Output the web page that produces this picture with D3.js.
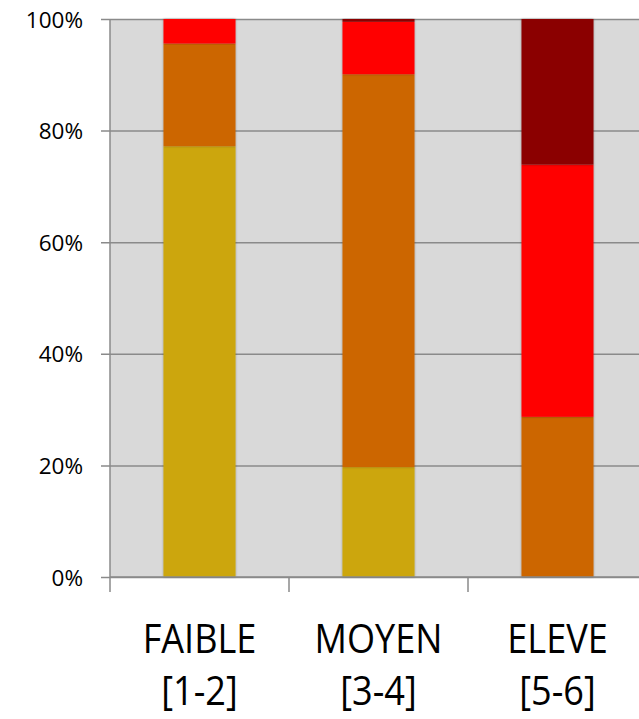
<!DOCTYPE html>
<html>
<head>
<meta charset="utf-8">
<script src="https://cdn.jsdelivr.net/npm/d3@7"></script>
<style>
  html, body { margin: 0; padding: 0; background: #ffffff; overflow: hidden; }
  svg { display: block; }
</style>
</head>
<body>
<svg id="chart" width="639" height="719"></svg>
<script>
// Categories (two-line labels)
const categories = ["FAIBLE [1-2]", "MOYEN [3-4]", "ELEVE [5-6]"];
const categoryLines = [["FAIBLE", "[1-2]"], ["MOYEN", "[3-4]"], ["ELEVE", "[5-6]"]];

// Stacked shares (percent), bottom to top
const serieJaune  = [77.2, 19.7, 0.0];
const serieOrange = [18.4, 70.4, 28.7];
const serieRouge  = [4.4, 9.4, 45.2];
const serieBordeaux = [0.0, 0.5, 26.1];

const seriesNames = ["jaune", "orange", "rouge", "bordeaux"];
const seriesColors = ["#cca60b", "#cc6600", "#ff0000", "#8b0006"];

const yTicks = [0, 20, 40, 60, 80, 100];

const rows = categories.map((c, i) => ({
  cat: c,
  jaune: serieJaune[i],
  orange: serieOrange[i],
  rouge: serieRouge[i],
  bordeaux: serieBordeaux[i]
}));

const svg = d3.select("#chart");
const margin = { left: 110, top: 19, bottom: 142 };
const plotW = 537;               // plot extends slightly past the right edge
const plotH = 719 - margin.top - margin.bottom;

const x = d3.scaleBand().domain(categories).range([0, plotW]).paddingInner(0.6).paddingOuter(0.3);
const xEdges = d3.scalePoint().domain(d3.range(categories.length + 1)).range([0, plotW]);
const y = d3.scaleLinear().domain([0, 100]).range([plotH, 0]);

const defs = svg.append("defs");
const shadow = defs.append("filter").attr("id", "shadow")
  .attr("x", "-10%").attr("y", "-5%").attr("width", "120%").attr("height", "110%");
shadow.append("feDropShadow").attr("dx", 0).attr("dy", 0)
  .attr("stdDeviation", 1.2).attr("flood-color", "#000").attr("flood-opacity", 0.35);

const g = svg.append("g").attr("transform", `translate(${margin.left},${margin.top})`);

// plot background
g.append("rect").attr("x", 0).attr("y", 0).attr("width", plotW).attr("height", plotH)
  .attr("fill", "#d9d9d9");

// horizontal gridlines + y axis
const yAxis = d3.axisLeft(y).tickValues(yTicks).tickFormat(d => d + "%")
  .tickSize(-plotW).tickPadding(27);
const yG = g.append("g").call(yAxis);
yG.select(".domain").remove();
yG.selectAll(".tick line").attr("stroke", "#8a8a8a").attr("stroke-width", 1.5).attr("x1", -9);
yG.selectAll(".tick text")
  .attr("font-family", "'Open Sans', sans-serif")
  .attr("font-size", 22.5)
  .attr("fill", "#000")
  .attr("dy", "0.36em");

// stacked bars
const stack = d3.stack().keys(seriesNames);
const stacked = stack(rows);
const color = d3.scaleOrdinal().domain(seriesNames).range(seriesColors);

const bw = 72;
g.append("g").selectAll("g.serie")
  .data(stacked)
  .join("g")
  .attr("class", "serie")
  .attr("fill", d => color(d.key))
  .selectAll("rect")
  .data(d => d.filter(p => p[1] - p[0] > 0))
  .join("rect")
  .attr("x", d => x(d.data.cat) + x.bandwidth() / 2 - bw / 2)
  .attr("width", bw)
  .attr("y", d => y(d[1]))
  .attr("height", d => y(d[0]) - y(d[1]))
  .attr("filter", "url(#shadow)");

// y axis line
g.append("line").attr("x1", 0).attr("x2", 0).attr("y1", 0).attr("y2", plotH)
  .attr("stroke", "#8a8a8a").attr("stroke-width", 1.5);

// x axis line + category separator ticks
g.append("line").attr("x1", 0).attr("x2", plotW).attr("y1", plotH).attr("y2", plotH)
  .attr("stroke", "#8a8a8a").attr("stroke-width", 1.5);
g.append("g").selectAll("line")
  .data(d3.range(categories.length + 1))
  .join("line")
  .attr("x1", d => xEdges(d)).attr("x2", d => xEdges(d))
  .attr("y1", plotH).attr("y2", plotH + 15)
  .attr("stroke", "#8a8a8a").attr("stroke-width", 1.5);

// category labels, two lines each, slightly condensed
const labels = g.append("g").selectAll("text")
  .data(categories)
  .join("text")
  .attr("transform", d => `translate(${x(d) + x.bandwidth() / 2},${plotH + 76}) scale(0.88,1)`)
  .attr("text-anchor", "middle")
  .attr("font-family", "'Open Sans', sans-serif")
  .attr("font-size", 41)
  .attr("fill", "#000");
labels.selectAll("tspan")
  .data((d, i) => categoryLines[i])
  .join("tspan")
  .attr("x", 0)
  .attr("y", (d, i) => i === 0 ? 0 : 52)
  .text(d => d);
</script>
</body>
</html>
